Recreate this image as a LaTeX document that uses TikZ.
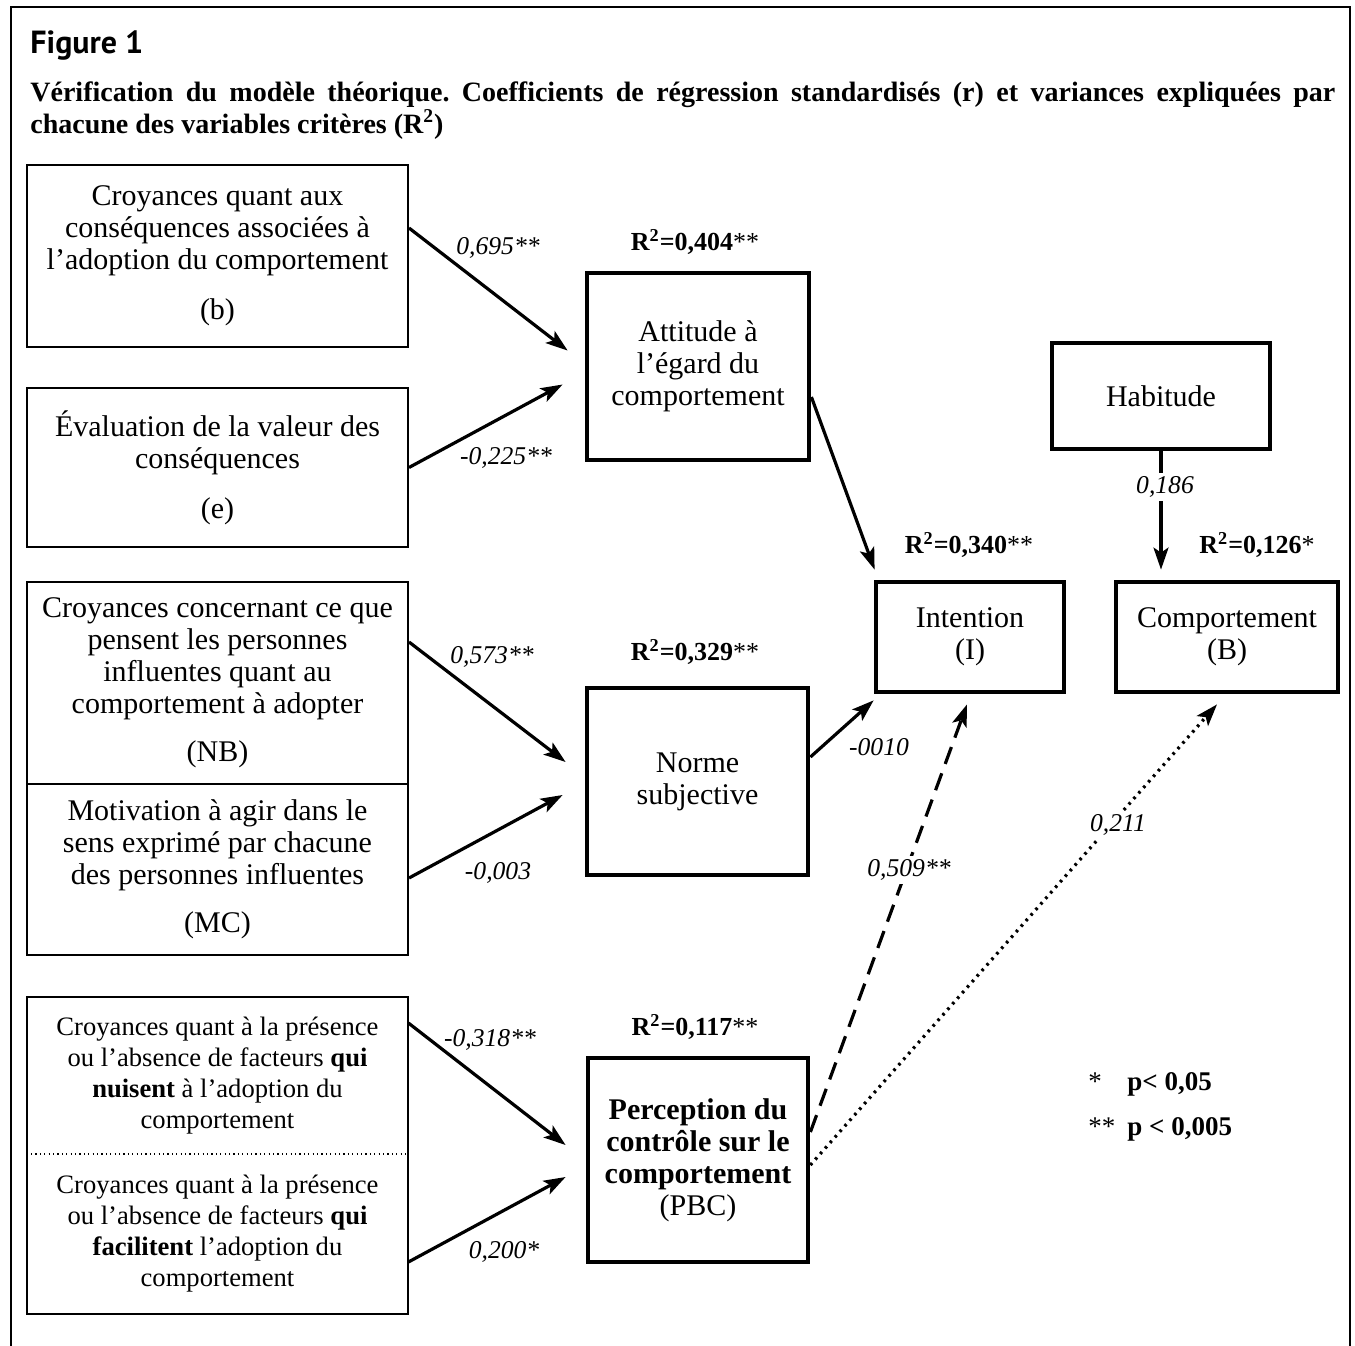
\documentclass[tikz,border=0pt]{standalone}
\usepackage{fontspec}
\setmainfont{Liberation Serif}
\newfontfamily\figsans{PT Sans}
\usetikzlibrary{arrows.meta,calc}
\frenchspacing
\begin{document}
\begin{tikzpicture}[x=0.5pt,y=-0.5pt,
  frame/.style={line width=1.2pt},
  inbox/.style={draw, line width=1pt, rectangle, align=center, inner sep=0pt,
    font=\fontsize{15}{16}\selectfont},
  smallbox/.style={rectangle, align=center, inner sep=0pt,
    font=\fontsize{13.3}{15.5}\selectfont},
  midbox/.style={draw, line width=2.4pt, rectangle, align=center, inner sep=0pt,
    font=\fontsize{15}{16}\selectfont},
  arr/.style={line width=1.6pt, -{Stealth[length=11pt,width=7.5pt,inset=2.5pt]}},
  coef/.style={font=\fontsize{12.8}{14}\selectfont\itshape, inner sep=1pt},
  rsq/.style={font=\fontsize{13}{15}\selectfont, anchor=base, inner sep=0pt},
  legend/.style={font=\fontsize{13.5}{15}\selectfont\bfseries, anchor=base west, inner sep=0pt}
]
\useasboundingbox (0,0) rectangle (1355,1345);
% frame
\draw[frame] (11,1346) -- (11,7) -- (1350,7) -- (1350,1346);
% title
\node[anchor=base west, inner sep=0pt, font=\figsans\fontsize{16}{18}\selectfont\bfseries] (title) at (30,53) {Figure 1};
\node[anchor=base west, inner sep=0pt, font=\fontsize{14}{16}\selectfont\bfseries] (cap1) at (30,101)
  {\makebox[652.5pt][s]{Vérification du modèle théorique. Coefficients de régression standardisés (r) et variances expliquées par}};
\node[anchor=base west, inner sep=0pt, font=\fontsize{14}{16}\selectfont\bfseries] (cap2) at (30,133)
  {chacune des variables critères (R\textsuperscript{2})};

% left boxes
\node[inbox, minimum width=190.5pt, minimum height=91pt] (b) at (217.5,256)
  {Croyances quant aux\\conséquences associées à\\l’adoption du comportement\\[9pt](b)};
\node[inbox, minimum width=190.5pt, minimum height=79.5pt] (e) at (217.5,467.5)
  {Évaluation de la valeur des\\conséquences\\[9pt](e)};
\node[inbox, minimum width=190.5pt, minimum height=101pt] (nb) at (217.5,683)
  {Croyances concernant ce que\\pensent les personnes\\influentes quant au\\comportement à adopter\\[8pt](NB)};
\node[inbox, minimum width=190.5pt, minimum height=85.5pt] (mc) at (217.5,869.5)
  {Motivation à agir dans le\\sens exprimé par chacune\\des personnes influentes\\[8pt](MC)};
\node[smallbox, minimum width=190.5pt, minimum height=78.5pt] (nu) at (217.5,1075.5)
  {Croyances quant à la présence\\ou l’absence de facteurs \textbf{qui}\\\textbf{nuisent} à l’adoption du\\comportement};
\node[smallbox, minimum width=190.5pt, minimum height=80pt] (fa) at (217.5,1234)
  {Croyances quant à la présence\\ou l’absence de facteurs \textbf{qui}\\\textbf{facilitent} l’adoption du\\comportement};
\draw[line width=1pt] (nu.north west) rectangle (fa.south east);
\draw[line width=1pt, dash pattern=on 0.6pt off 1.6pt] (nu.south west) -- (nu.south east);

% middle boxes
\node[midbox, minimum width=111pt, minimum height=93.5pt] (A) at (698,366.5)
  {Attitude à\\l’égard du\\comportement};
\node[midbox, minimum width=110.5pt, minimum height=93.5pt] (N) at (697.5,781.5)
  {Norme\\subjective};
\node[midbox, minimum width=110pt, minimum height=102pt] (P) at (698,1160)
  {\textbf{Perception du}\\\textbf{contrôle sur le}\\\textbf{comportement}\\(PBC)};

% right boxes
\node[midbox, minimum width=94pt, minimum height=55pt] (I) at (970,637) {Intention\\(I)};
\node[midbox, minimum width=111pt, minimum height=55pt] (C) at (1227,637) {Comportement\\(B)};
\node[midbox, minimum width=109pt, minimum height=53pt] (H) at (1161,396) {Habitude};

% R2 labels
\node[rsq] (rA) at (695,250) {\textbf{R\textsuperscript{2}=0,404}**};
\node[rsq] (rN) at (695,660) {\textbf{R\textsuperscript{2}=0,329}**};
\node[rsq] (rP) at (695,1035) {\textbf{R\textsuperscript{2}=0,117}**};
\node[rsq] (rI) at (969,553) {\textbf{R\textsuperscript{2}=0,340}**};
\node[rsq] (rC) at (1257,553) {\textbf{R\textsuperscript{2}=0,126}*};

% arrows left to middle
\draw[arr] ($(b.east)+(0,-28)$) -- ($(A.west)+(-17,-16)$);
\draw[arr] (e.east) -- ($(A.west)+(-22,18)$);
\draw[arr] ($(nb.east)+(0,-41)$) -- ($(N.west)+(-19,-19.5)$);
\draw[arr] ($(mc.east)+(0,8.5)$) -- ($(N.west)+(-22,13.5)$);
\draw[arr] ($(nu.east)+(0,-52.5)$) -- ($(P.west)+(-20,-15)$);
\draw[arr] ($(fa.east)+(0,28)$) -- ($(P.west)+(-20,17)$);
\node[coef] (c1) at (498,248) {0,695**};
\node[coef] (c2) at (506,458) {-0,225**};
\node[coef] (c3) at (492,657) {0,573**};
\node[coef] (c4) at (498,873) {-0,003};
\node[coef] (c5) at (490,1040) {-0,318**};
\node[coef] (c6) at (504,1252) {0,200*};

% arrows to intention / comportement
\draw[arr] ($(A.east)+(0,30.5)$) -- ($(I.north west)+(1,-10)$);
\draw[arr] ($(N.east)+(0,-24.5)$) -- ($(I.south west)+(0,6)$);
\node[coef] (c7) at (879,747) {-0010};
\draw[arr, dash pattern=on 9pt off 5pt] ($(P.east)+(0,-28)$) -- ($(I.south)+(-3,10)$);
\node[coef, fill=white, inner sep=2pt] (c8) at (909,870) {0,509**};
\draw[arr, dash pattern=on 1.3pt off 2.4pt] ($(P.east)+(0,5)$) -- ($(C.south)+(-10,10)$);
\node[coef, fill=white, inner sep=2pt] (c9) at (1118,825) {0,211};
\draw[arr] (H.south) -- ($(H.south |- C.north)+(0,-10)$);
\node[coef, fill=white, inner sep=2pt] (c10) at (1165,487) {0,186};

% legend
\node[legend] (l1s) at (1088,1090) {\mdseries *};
\node[legend] (l1) at (1127,1090) {p< 0,05};
\node[legend] (l2s) at (1088,1135) {\mdseries **};
\node[legend] (l2) at (1127,1135) {p < 0,005};
\end{tikzpicture}
\end{document}
